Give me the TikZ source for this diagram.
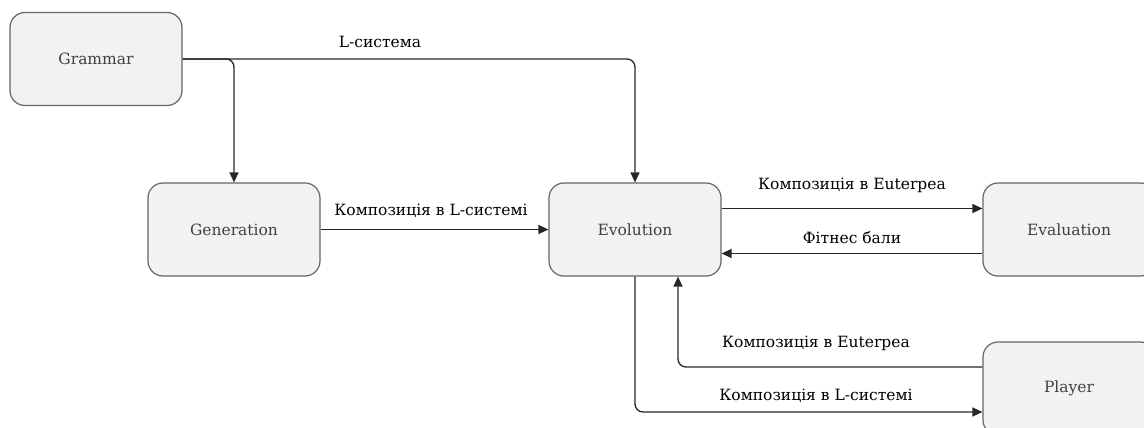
\documentclass[tikz,border=0pt]{standalone}
\usepackage{fontspec}
\setmainfont{DejaVu Serif}
\usetikzlibrary{arrows.meta}

\begin{document}
\begin{tikzpicture}[x=1pt,y=-1pt]
\tikzstyle{block}=[draw=black!60, line width=1.2pt, fill=black!5, rounded corners=15pt, minimum width=172pt, minimum height=93pt, text=black!75, font=\fontsize{15.5}{18}\selectfont]
\tikzstyle{link}=[draw=black!85, line width=1.3pt, -{Triangle[length=10pt,width=9pt]}, rounded corners=8pt]
\tikzstyle{lbl}=[inner sep=0pt, font=\fontsize{15.5}{18}\selectfont]
\clip (0,0) rectangle (1144,428);
\node[block] (gram) at (96,59) {Grammar};
\node[block] (gen) at (234,229.5) {Generation};
\node[block] (evo) at (635,229.5) {Evolution};
\node[block] (eval) at (1069,229.5) {Evaluation};
\node[block] (play) at (1069,388.5) {Player};
% grammar feeds both
\draw[link] (gram.east) -| (evo.north);
\draw[link] (gram.east) -| (gen.north);
\node[lbl] (lsys) at (380,42) {L-система};
% generation to evolution
\draw[link] (gen.east) -- (evo.west);
\node[lbl] (genlbl) at (431,211) {Композиція в L-системі};
% evolution and evaluation
\draw[link] ([yshift=21pt]evo.east) -- ([yshift=21pt]eval.west);
\node[lbl] (evallbl) at (852,185) {Композиція в Euterpea};
\draw[link] ([yshift=-24pt]eval.west) -- ([yshift=-24pt]evo.east);
\node[lbl] (fitlbl) at (852,238) {Фітнес бали};
% evolution and player
\draw[link] (evo.south) |- ([yshift=-23.5pt]play.west);
\node[lbl] (playlbl) at (816,396) {Композиція в L-системі};
\draw[link] ([yshift=21.5pt]play.west) -| ([xshift=43pt]evo.south);
\node[lbl] (backlbl) at (816,343) {Композиція в Euterpea};
\end{tikzpicture}
\end{document}
